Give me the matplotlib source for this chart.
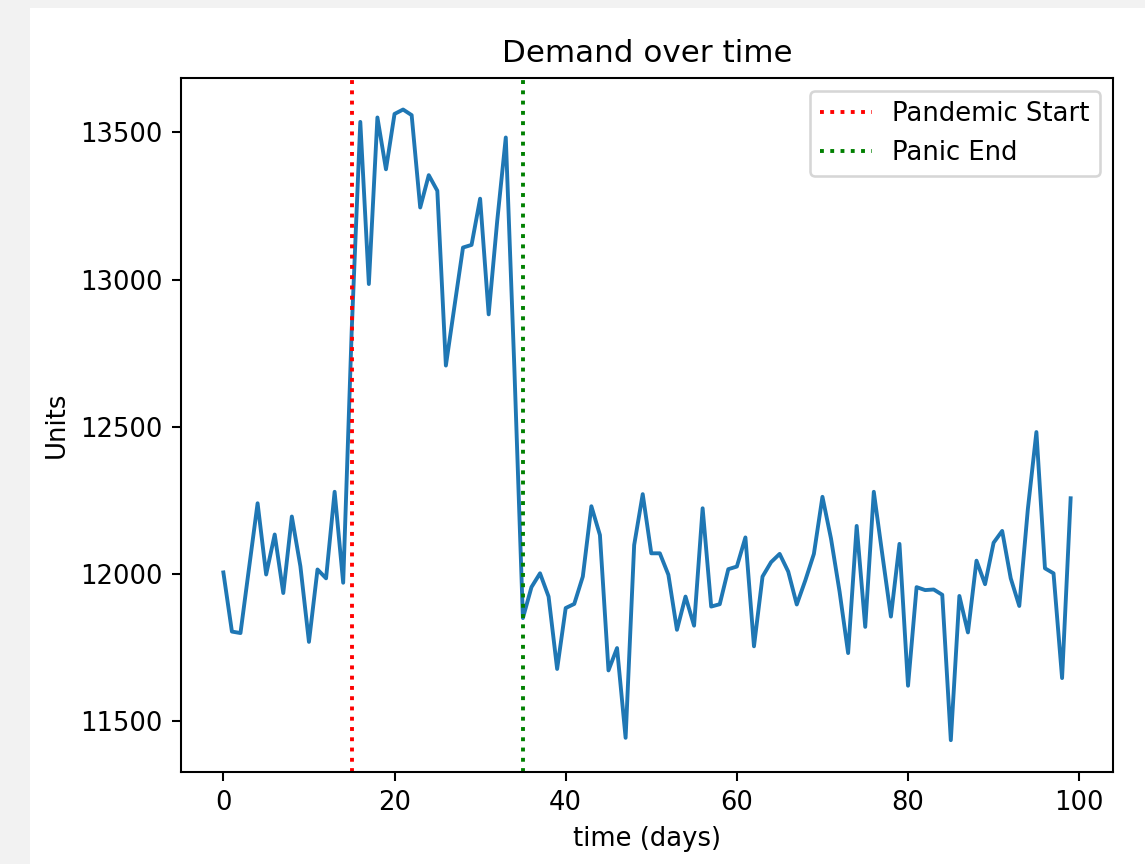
import matplotlib
matplotlib.use("Agg")
import matplotlib.pyplot as plt
from matplotlib.patches import Rectangle

days = list(range(100))
demand = [
    12005, 11804, 11799, 12020, 12240, 11998, 12134, 11935, 12195, 12026,
    11769, 12015, 11985, 12279, 11970, 12830, 13536, 12985, 13551, 13375,
    13563, 13578, 13559, 13245, 13355, 13302, 12708, 12909, 13109, 13118,
    13275, 12882, 13200, 13483, 12700, 11850, 11955, 12002, 11923, 11677,
    11884, 11898, 11991, 12230, 12132, 11672, 11748, 11443, 12098, 12271,
    12070, 12070, 11997, 11810, 11923, 11824, 12223, 11889, 11897, 12016,
    12025, 12124, 11754, 11991, 12040, 12068, 12008, 11896, 11978, 12068,
    12262, 12120, 11940, 11731, 12163, 11820, 12279, 12065, 11855, 12102,
    11620, 11955, 11945, 11947, 11929, 11435, 11925, 11801, 12045, 11965,
    12106, 12146, 11985, 11891, 12220, 12482, 12019, 12002, 11646, 12257,
]
pandemic_start = 15
panic_end = 35

DPI = 186
fig = plt.figure(figsize=(1145 / DPI, 864 / DPI), dpi=DPI)
fig.patch.set_facecolor('#f2f2f2')
fig.add_artist(Rectangle((30 / 1145, 0), 1, (864 - 8) / 864,
                         transform=fig.transFigure, facecolor='white',
                         edgecolor='none', zorder=-10))

left, right, top, bottom = 181.0, 1113.0, 78.0, 771.7
ax = fig.add_axes([left / 1145, 1 - bottom / 864, (right - left) / 1145, (bottom - top) / 864])
ax.plot(days, demand)
ax.axvline(pandemic_start, color='red', linestyle=':', label='Pandemic Start')
ax.axvline(panic_end, color='green', linestyle=':', label='Panic End')
ax.set_title('Demand over time')
ax.set_xlabel('time (days)')
ax.set_ylabel('Units')
ax.legend(loc='upper right')

fig.savefig('out.png', dpi=DPI, facecolor=fig.get_facecolor())
